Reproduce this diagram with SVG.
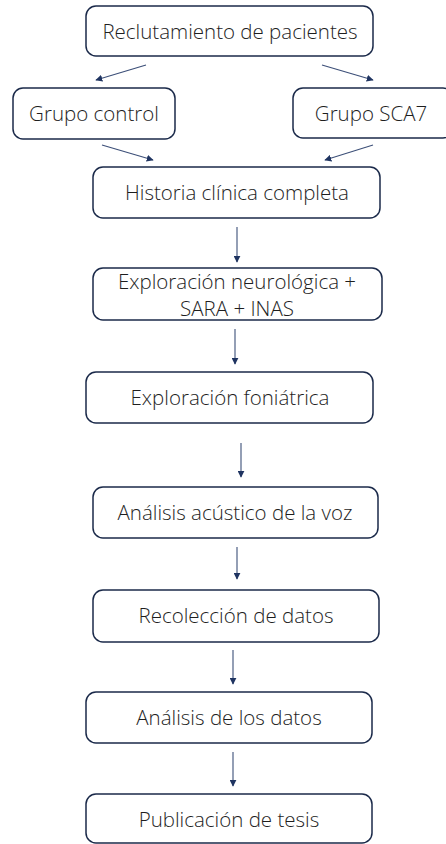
<svg xmlns="http://www.w3.org/2000/svg" width="446" height="844" viewBox="0 0 446 844">
<defs>
<marker id="ah" viewBox="0 0 10 10" refX="9" refY="5" markerWidth="7" markerHeight="7" markerUnits="userSpaceOnUse" orient="auto">
<path d="M0,0 L10,5 L0,10 z" fill="#1f3461"/>
</marker>
<style>
.box{fill:#ffffff;stroke:#1b2a4a;stroke-width:1.5}
.t{font-family:"Open Sans","Noto Sans","Liberation Sans",sans-serif;font-weight:300;font-size:20.5px;fill:#1e1e1e;text-anchor:middle}
.c{stroke:#3c4f78;stroke-width:1.1;fill:none;marker-end:url(#ah)}
</style>
</defs>
<rect width="446" height="844" fill="#ffffff"/>
<g id="connectors">
<line class="c" x1="146" y1="65" x2="96" y2="80"/>
<line class="c" x1="322" y1="65" x2="373" y2="80"/>
<line class="c" x1="102" y1="145" x2="153" y2="160"/>
<line class="c" x1="373" y1="145" x2="325" y2="160"/>
<line class="c" x1="237" y1="227" x2="237" y2="262"/>
<line class="c" x1="235" y1="329" x2="235" y2="364"/>
<line class="c" x1="241" y1="443" x2="241" y2="477"/>
<line class="c" x1="237" y1="547" x2="237" y2="579"/>
<line class="c" x1="233" y1="650" x2="233" y2="684"/>
<line class="c" x1="233" y1="752" x2="233" y2="786"/>
</g>
<g id="n1"><rect class="box" x="86" y="6" width="287" height="50" rx="10"/><text class="t" x="230" y="39">Reclutamiento de pacientes</text></g>
<g id="n2"><rect class="box" x="13" y="88" width="162" height="51" rx="10"/><text class="t" x="94" y="121">Grupo control</text></g>
<g id="n3"><rect class="box" x="293" y="88" width="160" height="50" rx="10"/><text class="t" x="371" y="121">Grupo SCA7</text></g>
<g id="n4"><rect class="box" x="93" y="167" width="287" height="51" rx="10"/><text class="t" x="237" y="200">Historia clínica completa</text></g>
<g id="n5"><rect class="box" x="93" y="268" width="289" height="52" rx="10"/><text class="t" x="237" y="289">Exploración neurológica +</text><text class="t" x="237" y="316">SARA + INAS</text></g>
<g id="n6"><rect class="box" x="86" y="372" width="287" height="51" rx="10"/><text class="t" x="230" y="405">Exploración foniátrica</text></g>
<g id="n7"><rect class="box" x="93" y="487" width="285" height="51" rx="10"/><text class="t" x="235" y="520">Análisis acústico de la voz</text></g>
<g id="n8"><rect class="box" x="93" y="590" width="286" height="52" rx="10"/><text class="t" x="236" y="623">Recolección de datos</text></g>
<g id="n9"><rect class="box" x="86" y="692" width="286" height="51" rx="10"/><text class="t" x="229" y="725">Análisis de los datos</text></g>
<g id="n10"><rect class="box" x="86" y="794" width="286" height="49" rx="10"/><text class="t" x="229" y="827">Publicación de tesis</text></g>
</svg>
